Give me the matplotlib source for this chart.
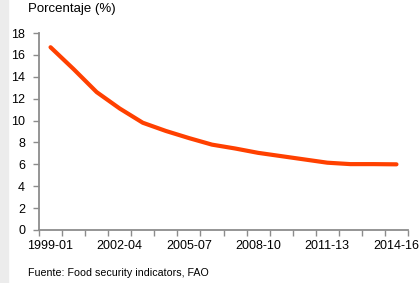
import numpy as np
import matplotlib
matplotlib.use("Agg")
import matplotlib.pyplot as plt
from matplotlib.patches import Rectangle

# three-year periods
periods = ['1999-01', '2000-02', '2001-03', '2002-04', '2003-05', '2004-06',
           '2005-07', '2006-08', '2007-09', '2008-10', '2009-11', '2010-12',
           '2011-13', '2012-14', '2013-15', '2014-16']
values = [16.7, 14.7, 12.6, 11.1, 9.8, 9.05, 8.4, 7.8, 7.45, 7.05,
          6.75, 6.45, 6.15, 6.02, 6.02, 6.0]
y_ticks = [0, 2, 4, 6, 8, 10, 12, 14, 16, 18]
label_every = 3

plt.rcParams['font.family'] = ['Liberation Sans', 'DejaVu Sans']

fig = plt.figure(figsize=(4.2, 2.83), dpi=100)
fig.patches.append(Rectangle((0, 0), 8 / 420, 1, transform=fig.transFigure,
                             color='#ececec', zorder=0))

ax = fig.add_axes([39 / 420, 1 - 230 / 283, (408 - 39) / 420, (230 - 33) / 283])
x = np.arange(len(periods))
ax.plot(x, values, color='#ff4000', lw=3, solid_capstyle='round',
        solid_joinstyle='round', clip_on=False)

ax.set_xlim(-0.5, len(periods) - 0.5)
ax.set_ylim(0, 18)

axis_col = '#8c8c8c'
for s in ['top', 'right']:
    ax.spines[s].set_visible(False)
for s in ['left', 'bottom']:
    ax.spines[s].set_color(axis_col)
    ax.spines[s].set_linewidth(1.3)

ax.set_yticks(y_ticks)
ax.set_yticklabels([str(v) for v in y_ticks])
ax.tick_params(axis='y', direction='out', length=4, width=1, color=axis_col,
               pad=6, labelsize=9)

# category boundaries as ticks, labels centred under categories
ax.set_xticks(np.arange(-0.5, len(periods)), minor=False)
ax.set_xticklabels([])
ax.tick_params(axis='x', which='major', direction='out', length=4, width=1,
               color=axis_col)
ax.set_xticks(x[::label_every], minor=True)
ax.set_xticklabels(periods[::label_every], minor=True)
ax.tick_params(axis='x', which='minor', length=0, pad=7, labelsize=9)

fig.text(28 / 420, 1 - 9 / 283, 'Porcentaje (%)', fontsize=9.5,
         ha='left', va='center')
fig.text(28 / 420, 1 - 273 / 283, 'Fuente: Food security indicators, FAO',
         fontsize=7.7, ha='left', va='center')

fig.savefig('out.png', dpi=100)
